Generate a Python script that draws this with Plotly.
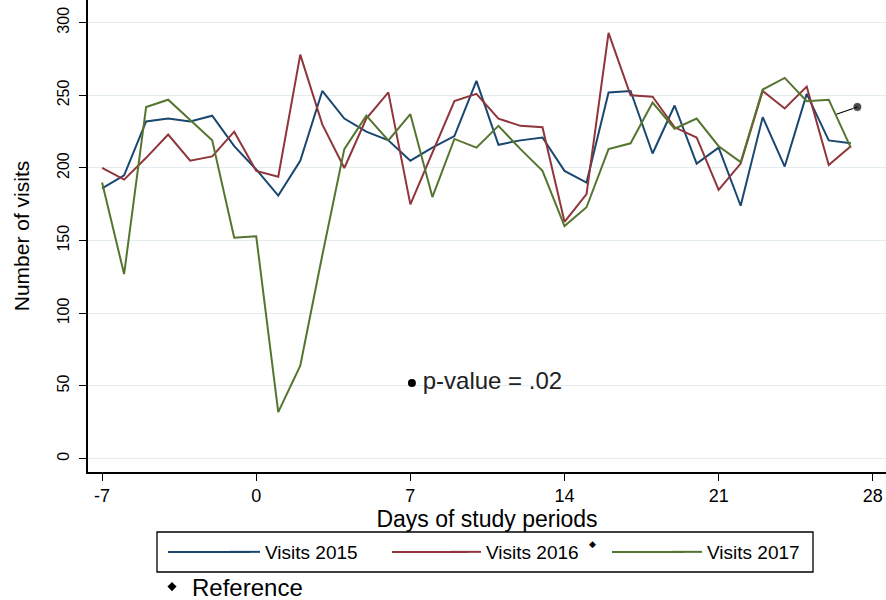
import plotly.graph_objects as go

days = list(range(-7, 28))

visits_2015 = [186, 195, 232, 234, 232, 236, 215, 199, 181, 205, 253, 234, 225, 219, 205, 214, 222, 260,
               216, 219, 221, 198, 190, 252, 253, 210, 243, 203, 214, 174, 235, 201, 251, 219, 217]
visits_2016 = [200, 192, 207, 223, 205, 208, 225, 198, 194, 278, 230, 200, 234, 252, 175, 210, 246, 251,
               234, 229, 228, 163, 182, 293, 250, 249, 228, 221, 185, 203, 253, 241, 256, 202, 215]
visits_2017 = [190, 127, 242, 247, 233, 219, 152, 153, 32, 64, 140, 213, 236, 219, 237, 180, 220, 214,
               229, 213, 198, 160, 173, 213, 217, 245, 227, 234, 215, 204, 254, 262, 246, 247, 214]

series_names = ["Visits 2015", "Visits 2016", "Visits 2017"]
series_colors = ["#1a476f", "#90353b", "#55752f"]

pvalue_x = [7.07]
pvalue_y = [52]
pvalue_text = ["\u2009p-value = .02"]

ref_x = [26.35, 27.3]
ref_y = [237, 242]

x_ticks = [-7, 0, 7, 14, 21, 28]
x_tick_labels = ["-7", "0", "7", "14", "21", "28"]
y_ticks = [0, 50, 100, 150, 200, 250, 300]

FONT = "Liberation Sans, Arial, sans-serif"

# legend geometry (paper coordinates of the plot area: x 88..886 px, y 0..472 px)
W, H, L = 798.0, 472.0, 88.0
def px(x):
    return (x - L) / W
def py(y):
    return (H - y) / H

fig = go.Figure()
for name, vals, col in zip(series_names, [visits_2015, visits_2016, visits_2017], series_colors):
    fig.add_trace(go.Scatter(x=days, y=vals, mode="lines", name=name,
                             line=dict(color=col, width=2), legend="legend"))

fig.add_trace(go.Scatter(x=pvalue_x, y=pvalue_y, mode="markers+text", text=pvalue_text,
                         textposition="middle right", textfont=dict(size=24, color="#222", family=FONT),
                         marker=dict(color="black", size=8), showlegend=False, hoverinfo="skip"))

fig.add_trace(go.Scatter(x=ref_x, y=ref_y, mode="lines+markers",
                         line=dict(color="black", width=1.2),
                         marker=dict(color="black", size=[0, 9]), showlegend=False))

fig.add_trace(go.Scatter(x=[None], y=[None], mode="markers", name="Reference",
                         marker=dict(symbol="diamond", color="black", size=7), legend="legend2"))

shapes = [dict(type="rect", xref="paper", yref="paper", x0=px(157), x1=px(813), y0=py(572), y1=py(532),
               line=dict(color="black", width=1.3), fillcolor="rgba(0,0,0,0)", layer="below")]
for (a, b), col in zip([(168, 250), (392, 468), (612, 684)], series_colors):
    shapes.append(dict(type="line", xref="paper", yref="paper", x0=px(a), x1=px(b), y0=py(552), y1=py(552),
                       line=dict(color=col, width=2)))

fig.update_layout(
    width=886, height=600,
    margin=dict(l=88, r=0, t=0, b=128, autoexpand=False),
    paper_bgcolor="white", plot_bgcolor="white",
    font=dict(family=FONT, color="black"),
    xaxis=dict(range=[-7.64, 28.6], tickvals=x_ticks, ticktext=x_tick_labels, showgrid=False,
               zeroline=False, automargin=False,
               showline=True, linecolor="black", linewidth=1.5, ticks="outside", ticklen=7,
               tickcolor="black", tickfont=dict(size=18),
               title=dict(text="Days of study periods", font=dict(size=23), standoff=0)),
    yaxis=dict(range=[-9.2, 315.6], tickvals=y_ticks, showgrid=True, gridcolor="#e3ecf0", gridwidth=1,
               zeroline=False, showline=True, linecolor="black", linewidth=1.5, ticks="outside",
               automargin=False, ticklabelstandoff=4,
               ticklen=7, tickcolor="black", tickangle=-90, tickfont=dict(size=16),
               title=dict(text="Number of visits", font=dict(size=21), standoff=19)),
    legend=dict(orientation="h", x=px(225), xanchor="left", y=py(552), yanchor="middle",
                borderwidth=0, bgcolor="rgba(0,0,0,0)",
                font=dict(size=19), entrywidth=176, entrywidthmode="pixels"),
    legend2=dict(orientation="h", x=px(152), xanchor="left", y=py(587), yanchor="middle",
                 font=dict(size=24), bgcolor="rgba(0,0,0,0)", borderwidth=0),
    shapes=shapes,
    annotations=[dict(text="◆", xref="paper", yref="paper", x=px(592), y=py(551),
                      showarrow=False, font=dict(size=9, color="black"))],
)

fig.write_html("out.html", config={"displayModeBar": False},
               post_script="document.body.style.margin='0';")
